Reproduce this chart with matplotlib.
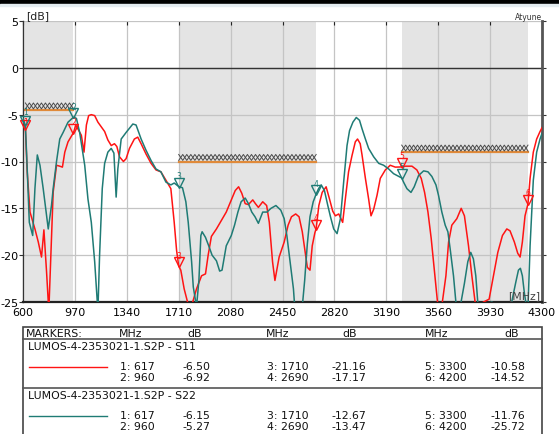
import numpy as np
import matplotlib
matplotlib.use("Agg")
from matplotlib import pyplot as plt
from matplotlib import transforms
from matplotlib.patches import Rectangle
from matplotlib.lines import Line2D

# S11 trace (MHz, dB)
s11_mhz = [600, 607, 617, 630, 650, 685, 709, 732, 749, 768, 784, 803, 815, 839,
           862, 881, 898, 921, 960, 976, 1016, 1035, 1052, 1068, 1087, 1111, 1134,
           1158, 1182, 1205, 1229, 1252, 1269, 1288, 1316, 1335, 1359, 1394, 1418,
           1442, 1477, 1513, 1548, 1583, 1619, 1654, 1678, 1695, 1710, 1725, 1749,
           1773, 1790, 1806, 1837, 1873, 1901, 1920, 1943, 1979, 2014, 2049, 2085,
           2113, 2137, 2160, 2184, 2207, 2238, 2257, 2278, 2309, 2337, 2356, 2379,
           2396, 2426, 2462, 2490, 2514, 2544, 2568, 2591, 2608, 2627, 2646, 2662,
           2681, 2690, 2709, 2733, 2761, 2785, 2808, 2827, 2851, 2879, 2898, 2921,
           2945, 2969, 2985, 3004, 3017, 3041, 3064, 3081, 3100, 3124, 3147, 3183,
           3218, 3254, 3300, 3325, 3373, 3408, 3439, 3463, 3487, 3510, 3534, 3555,
           3586, 3615, 3634, 3657, 3693, 3724, 3747, 3776, 3800, 3823, 3847, 3883,
           3923, 3954, 3985, 4018, 4049, 4072, 4103, 4127, 4144, 4160, 4179, 4200,
           4215, 4238, 4262, 4286, 4300]
s11_db = [-5.8, -5.8, -6.5, -11.1, -15.4, -17.2, -18.6, -20.2, -17.3, -21.8, -26.0,
          -18.2, -13.3, -10.4, -10.5, -10.6, -9.0, -7.9, -6.92, -6.1, -7.2, -9.0,
          -6.1, -5.1, -5.0, -5.1, -5.8, -6.3, -6.8, -7.7, -8.3, -8.1, -8.4, -9.5,
          -10.0, -9.7, -8.6, -7.6, -7.4, -8.1, -9.2, -10.2, -10.9, -11.1, -12.0,
          -12.9, -16.5, -19.5, -21.16, -21.6, -23.6, -25.0, -25.6, -25.2, -23.6,
          -22.2, -22.0, -20.0, -18.0, -17.2, -16.3, -15.4, -14.1, -13.1, -12.7,
          -13.4, -14.5, -14.6, -14.1, -14.5, -14.9, -14.3, -14.7, -16.5, -20.7,
          -22.7, -20.2, -18.6, -16.8, -15.9, -15.6, -15.9, -17.5, -19.3, -21.3,
          -21.6, -19.0, -17.6, -17.17, -14.7, -13.3, -12.7, -14.0, -15.3, -15.8,
          -15.6, -16.5, -14.0, -11.1, -9.4, -7.9, -7.6, -8.1, -9.3, -11.8, -14.0,
          -15.8, -15.1, -13.6, -11.8, -10.9, -10.4, -10.6, -10.58, -10.5, -10.5,
          -10.9, -11.8, -13.3, -15.4, -18.2, -21.8, -25.0, -25.4, -22.2, -18.6,
          -16.8, -16.1, -15.0, -15.8, -19.0, -22.2, -25.0, -25.4, -25.0, -24.7,
          -22.2, -19.7, -17.9, -17.2, -17.4, -18.6, -19.8, -20.2, -18.6, -15.8,
          -14.52, -11.8, -9.0, -7.6, -6.8, -6.4]

# S22 trace (MHz, dB)
s22_mhz = [600, 617, 626, 645, 669, 685, 702, 721, 744, 780, 803, 815, 839, 862,
           886, 921, 960, 981, 1004, 1040, 1063, 1087, 1111, 1134, 1146, 1165, 1182,
           1205, 1229, 1248, 1264, 1276, 1300, 1335, 1383, 1406, 1442, 1477, 1513,
           1548, 1583, 1619, 1654, 1678, 1710, 1737, 1761, 1778, 1802, 1814, 1837,
           1854, 1868, 1877, 1901, 1924, 1948, 1979, 2002, 2019, 2049, 2085, 2108,
           2132, 2155, 2184, 2207, 2231, 2254, 2278, 2309, 2339, 2368, 2403, 2438,
           2462, 2481, 2504, 2528, 2537, 2591, 2608, 2627, 2646, 2669, 2690, 2707,
           2726, 2749, 2773, 2792, 2815, 2839, 2863, 2886, 2910, 2928, 2952, 2976,
           2999, 3017, 3041, 3064, 3100, 3136, 3171, 3207, 3242, 3300, 3313, 3337,
           3366, 3389, 3420, 3456, 3487, 3515, 3544, 3562, 3586, 3610, 3629, 3645,
           3669, 3686, 3717, 3747, 3771, 3792, 3811, 3828, 3842, 3871, 3906, 3942,
           3989, 4037, 4084, 4113, 4132, 4146, 4160, 4174, 4184, 4200, 4208, 4215,
           4238, 4262, 4286, 4300]
s22_db = [-5.4, -6.15, -9.3, -16.5, -17.9, -12.9, -9.3, -10.4, -12.9, -17.2, -14.7,
          -12.9, -10.0, -7.6, -6.9, -5.8, -5.27, -5.4, -6.9, -10.4, -14.0, -16.5,
          -20.7, -26.0, -20.0, -12.9, -10.2, -9.0, -8.6, -9.1, -13.8, -10.8, -7.6,
          -6.9, -6.0, -6.1, -7.6, -8.8, -9.9, -10.8, -11.1, -12.2, -12.5, -12.3,
          -12.67, -12.8, -14.3, -16.5, -20.7, -23.4, -25.5, -22.7, -17.9, -17.5,
          -18.1, -19.0, -20.0, -20.6, -21.7, -21.6, -19.0, -17.9, -16.8, -15.4,
          -14.3, -13.9, -14.5, -15.4, -15.9, -16.6, -15.4, -15.4, -15.0, -14.7,
          -15.2, -16.1, -17.9, -20.7, -23.6, -25.5, -25.5, -22.7, -18.8, -15.9,
          -14.3, -13.47, -12.9, -12.5, -13.1, -14.7, -15.9, -17.2, -17.7, -16.1,
          -12.2, -8.3, -6.7, -5.8, -5.3, -5.6, -6.5, -7.6, -8.6, -9.5, -10.2,
          -10.4, -10.8, -11.3, -11.76, -12.2, -12.9, -13.3, -12.7, -11.5, -11.0,
          -11.1, -11.6, -12.5, -13.6, -15.4, -16.8, -17.5, -19.3, -22.2, -25.0,
          -25.5, -23.0, -20.7, -19.7, -20.4, -22.2, -25.0, -25.4, -25.2, -25.0,
          -25.4, -25.4, -25.0, -22.9, -21.6, -21.4, -22.2, -24.0, -25.0, -25.72,
          -22.0, -19.0, -12.0, -9.0, -7.6, -7.0]

# markers from the table
marker_mhz = [617, 960, 1710, 2690, 3300, 4200]
s11_marker_db = [-6.50, -6.92, -21.16, -17.17, -10.58, -14.52]
s22_marker_db = [-6.15, -5.27, -12.67, -13.47, -11.76, -25.72]

# shaded bands and limit lines
band_start = [617, 1710, 3300]
band_stop = [960, 2690, 4200]
band_limit = [-4.5, -10.0, -9.0]

x_ticks = [600, 970, 1340, 1710, 2080, 2450, 2820, 3190, 3560, 3930, 4300]
y_ticks = [-25, -20, -15, -10, -5, 0, 5]

RED = '#ff1414'
TEAL = '#1f7b75'
W, H = 559, 435

fig = plt.figure(figsize=(W / 100, H / 100), dpi=100)
ax = fig.add_axes([23 / W, 1 - 303 / H, (542 - 23) / W, 281 / H])
ax.set_xlim(600, 4300)
ax.set_ylim(-25, 5)

for f1, f2 in zip(band_start, band_stop):
    ax.axvspan(f1, f2, color='#e4e4e4', lw=0, zorder=0.2)

ax.set_axisbelow(True)
ax.set_xticks(x_ticks)
ax.set_yticks(y_ticks)
ax.grid(True, color='#c4c4c4', lw=0.9)
ax.axhline(0, color='#333333', lw=1.0, zorder=1)

# limit lines with the diamond chain above them
period = 57.0
for f1, f2, lim in zip(band_start, band_stop, band_limit):
    ax.plot([f1, f2], [lim, lim], color='#e08a3a', lw=1.6, zorder=2)
    n = int(round((f2 - f1) / period))
    xs = np.linspace(f1, f2, 2 * n + 1)
    lo, hi = lim + 0.12, lim + 0.75
    up = np.where(np.arange(len(xs)) % 2 == 0, lo, hi)
    dn = np.where(np.arange(len(xs)) % 2 == 0, hi, lo)
    ax.plot(xs, up, color='#4a4a4a', lw=0.7, zorder=2)
    ax.plot(xs, dn, color='#4a4a4a', lw=0.7, zorder=2)

ax.plot(s11_mhz, s11_db, color=RED, lw=1.1, zorder=3)
ax.plot(s22_mhz, s22_db, color=TEAL, lw=1.1, zorder=3)

# marker triangles with numbers
tri = transforms.offset_copy(ax.transData, fig=fig, y=4, units='dots')
for vals, other, col, is_s22 in [(s11_marker_db, s22_marker_db, RED, False),
                                 (s22_marker_db, s11_marker_db, TEAL, True)]:
    for i, (f, v) in enumerate(zip(marker_mhz, vals)):
        if v < -25:
            continue
        ax.plot(f, v, marker='v', ms=7.5, mfc='none', mec=col, mew=1.0,
                transform=tri, clip_on=False, zorder=4)
        # markers sitting on top of each other: spread their numbers apart
        off = 11
        if abs(v - other[i]) < 1.0:
            off = 14 if v > other[i] else 7
        num = transforms.offset_copy(ax.transData, fig=fig, y=off, units='dots')
        ax.text(f, v, str(i + 1), color=col, fontsize=5.5, ha='center',
                va='center', transform=num, zorder=4 if is_s22 else 3.5)

ax.spines['top'].set_visible(False)
ax.spines['left'].set_color('#333333')
ax.spines['left'].set_linewidth(1.0)
ax.spines['bottom'].set_color('#222222')
ax.spines['bottom'].set_linewidth(1.6)
ax.spines['right'].set_color('#555555')
ax.spines['right'].set_linewidth(2.0)

ax.tick_params(axis='x', which='both', bottom=False, top=True, direction='in',
               length=3, color='#222222', labelsize=8, pad=3.5)
ax.tick_params(axis='y', which='both', left=True, right=True, direction='out',
               length=3, color='#333333', labelsize=8, pad=0.5)
ax.set_xticklabels([str(v) for v in x_ticks])
ax.set_yticklabels([str(v) for v in y_ticks])

ax.text(0.997, 0.008, '[MHz]', transform=ax.transAxes, ha='right', va='bottom',
        fontsize=7.8, color='#444444', zorder=5)
fig.text(26 / W, 1 - 16 / H, '[dB]', fontsize=7.8, ha='left', va='center',
         color='#222222')
fig.text(542 / W, 1 - 17 / H, 'Atyune', fontsize=5.5, ha='right', va='center',
         color='#333333')

# window chrome at the top
fig.patches.append(Rectangle((0, 1 - 4.5 / H), 1, 4.5 / H, transform=fig.transFigure,
                             color='black', zorder=10))
fig.patches.append(Rectangle((0, 1 - 7 / H), 1, 2.5 / H, transform=fig.transFigure,
                             color='#e4ecf0', zorder=10))


# marker table under the chart
def fy(py):
    return 1 - py / H


box_l, box_r = 23, 542
fig.patches.append(Rectangle((box_l / W, fy(445)), (box_r - box_l) / W, (445 - 328) / H,
                             transform=fig.transFigure, fill=False,
                             edgecolor='#444444', lw=1.2))
for sep in [339.5, 388.5]:
    fig.lines.append(Line2D([box_l / W, box_r / W], [fy(sep), fy(sep)],
                            transform=fig.transFigure, color='#555555', lw=1.2))

FS = 7.8
header = [('MARKERS:', 26), ('MHz', 119), ('dB', 187), ('MHz', 266), ('dB', 342),
          ('MHz', 425), ('dB', 504)]
for s, px in header:
    fig.text(px / W, fy(334), s, fontsize=FS, ha='left', va='center', color='#111111')

traces = [('LUMOS-4-2353021-1.S2P - S11', RED, s11_marker_db, 346.7, 367.5),
          ('LUMOS-4-2353021-1.S2P - S22', TEAL, s22_marker_db, 395.7, 416.5)]
col_x = [(120, 182), (267, 331), (425, 490)]
for name, col, vals, y_name, y_row in traces:
    fig.text(28 / W, fy(y_name), name, fontsize=FS, ha='left', va='center',
             color='#111111')
    fig.lines.append(Line2D([29 / W, 107 / W], [fy(y_row + 0.5), fy(y_row + 0.5)],
                            transform=fig.transFigure, color=col, lw=1.0))
    for i, (f, v) in enumerate(zip(marker_mhz, vals)):
        cx, vx = col_x[i // 2]
        yy = y_row + 10.3 * (i % 2)
        fig.text(cx / W, fy(yy), f'{i + 1}: {f}', fontsize=FS, ha='left',
                 va='center', color='#111111')
        fig.text(vx / W, fy(yy), f'{v:.2f}', fontsize=FS, ha='left',
                 va='center', color='#111111')

fig.savefig('out.png', dpi=100)
